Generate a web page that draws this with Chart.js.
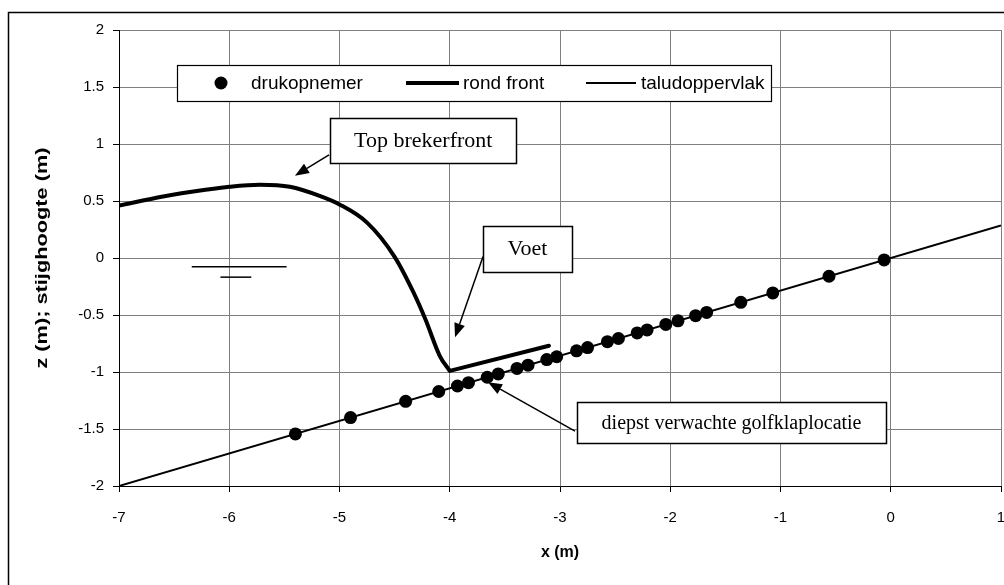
<!DOCTYPE html>
<html><head><meta charset="utf-8">
<script src="https://cdn.jsdelivr.net/npm/chart.js@4.4.1/dist/chart.umd.min.js"></script>
<style>html,body{margin:0;padding:0;background:#fff;}#wrap{width:1004px;height:585px;}</style>
</head><body><div id="wrap"><canvas id="c" width="1004" height="585"></canvas></div>
<script>
// ---- data ----
const seriesLabels = ['drukopnemer', 'rond front', 'taludoppervlak'];
const sensorX = [-5.40, -4.90, -4.40, -4.10, -3.93, -3.83, -3.66, -3.56, -3.39, -3.29, -3.12, -3.03,
                 -2.85, -2.75, -2.57, -2.47, -2.30, -2.21, -2.04, -1.93, -1.77, -1.67, -1.36, -1.07, -0.56, -0.06];
const sensorZ = [-1.543, -1.400, -1.257, -1.171, -1.123, -1.094, -1.046, -1.017, -0.969, -0.940, -0.891, -0.866,
                 -0.814, -0.786, -0.734, -0.706, -0.657, -0.631, -0.583, -0.551, -0.506, -0.477, -0.389, -0.306, -0.160, -0.017];
const frontX = [-7.0, -6.6, -6.2, -6.0, -5.72, -5.45, -5.18, -5.0, -4.75, -4.5, -4.33, -4.22, -4.09, -4.0];
const frontZ = [0.46, 0.54, 0.60, 0.625, 0.643, 0.625, 0.545, 0.47, 0.31, 0.01, -0.30, -0.54, -0.86, -0.99];
const footX = [-4.0, -3.1];
const footZ = [-0.99, -0.77];
const slopeX = [-7, 1];
const slopeZ = [-2, 0.2857];
const waterLongX = [-6.34, -5.48];
const waterLongZ = [-0.077, -0.077];
const waterShortX = [-6.08, -5.80];
const waterShortZ = [-0.168, -0.168];
const xTickValues = [-7, -6, -5, -4, -3, -2, -1, 0, 1];
const yTickValues = [-2, -1.5, -1, -0.5, 0, 0.5, 1, 1.5, 2];
const xTitle = 'x (m)';
const yTitle = 'z (m); stijghoogte (m)';
const notes = [
  {text: 'Top brekerfront', cx: -4.24, cz: 1.03, w: 186, h: 45, fromX: -5.095, fromZ: 0.905, toX: -5.404, toZ: 0.722},
  {text: 'Voet', cx: -3.295, cz: 0.083, w: 89, h: 46, fromX: -3.698, fromZ: 0.013, toX: -3.952, toZ: -0.696},
  {text: 'diepst verwachte golfklaplocatie', cx: -1.444, cz: -1.444, w: 309, h: 41, fromX: -2.864, fromZ: -1.519, toX: -3.653, toZ: -1.09}
];

const pts = (xs, zs) => xs.map((x, i) => ({x: x, y: zs[i]}));
const SANS = "'Liberation Sans', Arial, sans-serif";
const SERIF = "'Liberation Serif', 'Times New Roman', serif";
const PLOT_RIGHT_GAP = 3;

const framePlugin = {
  id: 'frame',
  afterLayout(chart) {
    // keep the plot area running to the right edge, as in the reference
    const a = chart.chartArea, x = chart.scales.x;
    const target = chart.width - PLOT_RIGHT_GAP;
    if (Math.abs(a.right - target) > 0.1) {
      a.right = target; a.width = target - a.left;
      x.right = target; x.width = target - x.left;
      x.configure();
    }
  },
  beforeDraw(chart) {
    const ctx = chart.ctx;
    ctx.save();
    ctx.fillStyle = '#fff';
    ctx.fillRect(0, 0, chart.width, chart.height);
    ctx.strokeStyle = '#000';
    ctx.lineWidth = 1.5;
    ctx.beginPath();
    ctx.moveTo(8.5, chart.height + 2);
    ctx.lineTo(8.5, 12.5);
    ctx.lineTo(chart.width + 2, 12.5);
    ctx.stroke();
    ctx.restore();
  },
  afterDraw(chart) {
    const ctx = chart.ctx, a = chart.chartArea;
    ctx.save();
    ctx.translate(43, (a.top + a.bottom) / 2);
    ctx.rotate(-Math.PI / 2);
    ctx.scale(1.36, 1);
    ctx.font = 'bold 16px ' + SANS;
    ctx.fillStyle = '#000';
    ctx.textAlign = 'center';
    ctx.textBaseline = 'middle';
    ctx.fillText(yTitle, 0, 0);
    ctx.restore();
  }
};

const notesPlugin = {
  id: 'notes',
  afterDatasetsDraw(chart) {
    const ctx = chart.ctx, xs = chart.scales.x, ys = chart.scales.y;
    ctx.save();
    const lx0 = 177, ly0 = 65, lx1 = 771, ly1 = 101, my = (ly0 + ly1) / 2;
    ctx.fillStyle = '#fff';
    ctx.fillRect(lx0, ly0, lx1 - lx0, ly1 - ly0);
    ctx.strokeStyle = '#000'; ctx.lineWidth = 1.2;
    ctx.strokeRect(lx0 + 0.5, ly0 + 0.5, lx1 - lx0, ly1 - ly0);
    const ds = chart.data.datasets;
    ctx.font = '19px ' + SANS;
    ctx.fillStyle = '#000';
    ctx.textBaseline = 'middle';
    ctx.textAlign = 'left';
    ctx.beginPath(); ctx.arc(221, my, ds[0].pointRadius, 0, Math.PI * 2); ctx.fillStyle = ds[0].backgroundColor; ctx.fill();
    ctx.fillStyle = '#000'; ctx.fillText(ds[0].label, 251, my + 1);
    ctx.strokeStyle = ds[1].borderColor; ctx.lineWidth = ds[1].borderWidth;
    ctx.beginPath(); ctx.moveTo(406, my); ctx.lineTo(459, my); ctx.stroke();
    ctx.fillText(ds[1].label, 463, my + 1);
    ctx.strokeStyle = ds[2].borderColor; ctx.lineWidth = ds[2].borderWidth;
    ctx.beginPath(); ctx.moveTo(586, my); ctx.lineTo(636, my); ctx.stroke();
    ctx.fillText(ds[2].label, 641, my + 1);

    for (const n of notes) {
      const cx = xs.getPixelForValue(n.cx), cy = ys.getPixelForValue(n.cz);
      const bx = Math.round(cx - n.w / 2) + 0.5, by = Math.round(cy - n.h / 2) + 0.5;
      ctx.fillStyle = '#fff';
      ctx.fillRect(bx, by, n.w, n.h);
      ctx.strokeStyle = '#000'; ctx.lineWidth = 1.5;
      ctx.strokeRect(bx, by, n.w, n.h);
      ctx.fillStyle = '#000';
      ctx.font = (n.text.length > 20 ? '20px ' : '22px ') + SERIF;
      ctx.textAlign = 'center'; ctx.textBaseline = 'middle';
      ctx.fillText(n.text, cx, cy + 1);
      const fx = xs.getPixelForValue(n.fromX), fy = ys.getPixelForValue(n.fromZ);
      const tx = xs.getPixelForValue(n.toX), ty = ys.getPixelForValue(n.toZ);
      const ang = Math.atan2(ty - fy, tx - fx);
      const L = 14, W = 5.5;
      const bxp = tx - L * Math.cos(ang), byp = ty - L * Math.sin(ang);
      ctx.strokeStyle = '#000'; ctx.lineWidth = 1.5;
      ctx.beginPath(); ctx.moveTo(fx, fy); ctx.lineTo(bxp, byp); ctx.stroke();
      ctx.beginPath();
      ctx.moveTo(tx, ty);
      ctx.lineTo(bxp + W * Math.sin(ang), byp - W * Math.cos(ang));
      ctx.lineTo(bxp - W * Math.sin(ang), byp + W * Math.cos(ang));
      ctx.closePath(); ctx.fill();
    }
    ctx.restore();
  }
};

new Chart(document.getElementById('c'), {
  type: 'scatter',
  data: {
    datasets: [
      {label: seriesLabels[0], data: pts(sensorX, sensorZ), showLine: false, pointRadius: 6.5,
       pointHoverRadius: 6.5, backgroundColor: '#000', borderColor: '#000', pointBorderWidth: 0},
      {label: seriesLabels[1], data: pts(frontX, frontZ), showLine: true, borderColor: '#000', borderWidth: 4,
       pointRadius: 0, cubicInterpolationMode: 'monotone', borderCapStyle: 'butt', borderJoinStyle: 'round'},
      {label: seriesLabels[2], data: pts(slopeX, slopeZ), showLine: true, borderColor: '#000', borderWidth: 2, pointRadius: 0},
      {label: 'foot', data: pts(footX, footZ), showLine: true, borderColor: '#000', borderWidth: 4, pointRadius: 0, borderCapStyle: 'round'},
      {label: 'water1', data: pts(waterLongX, waterLongZ), showLine: true, borderColor: '#000', borderWidth: 1.5, pointRadius: 0},
      {label: 'water2', data: pts(waterShortX, waterShortZ), showLine: true, borderColor: '#000', borderWidth: 1.5, pointRadius: 0}
    ]
  },
  options: {
    responsive: false,
    animation: false,
    devicePixelRatio: 1,
    layout: {padding: {left: 0, top: 30, right: 0, bottom: 0}},
    plugins: {legend: {display: false}, tooltip: {enabled: false}},
    scales: {
      x: {
        type: 'linear', position: 'bottom', min: -7, max: 1,
        afterBuildTicks: s => { s.ticks = xTickValues.map(v => ({value: v})); },
        afterFit: s => { s.height = 99; s.paddingLeft = 0; s.paddingRight = 0; },
        ticks: {color: '#000', font: {family: SANS, size: 15}, padding: 17, maxRotation: 0, autoSkip: false,
                callback: v => String(v)},
        grid: {color: '#808080', lineWidth: 1, tickColor: '#000', tickLength: 6},
        border: {color: '#000', width: 1},
        title: {display: true, text: xTitle, color: '#000', font: {family: SANS, size: 16, weight: 'bold'},
                padding: {top: 0, bottom: 23}}
      },
      y: {
        type: 'linear', position: 'left', min: -2, max: 2,
        afterBuildTicks: s => { s.ticks = yTickValues.map(v => ({value: v})); },
        afterFit: s => { s.width = 119; s.paddingTop = 0; s.paddingBottom = 0; },
        ticks: {color: '#000', font: {family: SANS, size: 15}, padding: 9, autoSkip: false,
                callback: v => String(v)},
        grid: {color: '#808080', lineWidth: 1, tickColor: '#000', tickLength: 6},
        border: {color: '#000', width: 1},
        title: {display: false, text: yTitle}
      }
    }
  },
  plugins: [framePlugin, notesPlugin]
});
</script>
</body></html>
